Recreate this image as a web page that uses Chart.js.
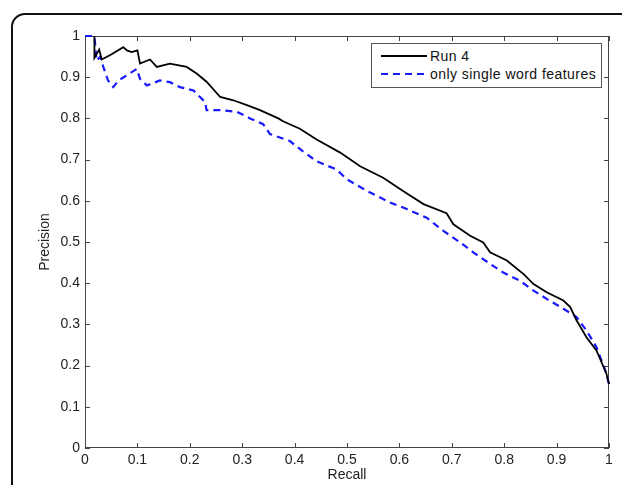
<!DOCTYPE html>
<html lang="en">
<head>
  <meta charset="UTF-8">
  <title>Precision / Recall</title>
  <style>
    html, body { margin: 0; padding: 0; background: #fff; overflow: hidden; }
    #wrap { position: relative; width: 622px; height: 485px; overflow: hidden; }
    #frame {
      position: absolute; left: 11px; top: 13px;
      width: 700px; height: 600px;
      border: 2px solid #111; border-radius: 14px;
    }
    #prChart { position: absolute; left: 0; top: 0; }
    #legend {
      position: absolute; left: 371px; top: 43px;
      width: 229px; height: 40px;
      border: 1px solid #555; background: #fff;
      font: 14px "Liberation Sans", Arial, sans-serif; color: #111;
      letter-spacing: 0.45px;
      padding-top: 3px; box-sizing: content-box;
    }
    #legend .row { display: flex; align-items: center; height: 18px; padding-left: 9px; }
    #legend svg { margin-right: 3px; }
  </style>
</head>
<body>
<div id="wrap">
  <div id="frame"></div>
  <canvas id="prChart" width="622" height="485"></canvas>
  <div id="legend"></div>
</div>

<script src="https://cdn.jsdelivr.net/npm/chart.js"></script>
<script>
  // Run 4
  const runRecall = [0.018, 0.018, 0.027, 0.032, 0.05, 0.073, 0.08, 0.089, 0.1, 0.105, 0.124, 0.137,
    0.162, 0.194, 0.213, 0.232, 0.258, 0.283, 0.309, 0.334, 0.369, 0.378, 0.41, 0.442, 0.487, 0.525,
    0.569, 0.607, 0.646, 0.69, 0.703, 0.735, 0.76, 0.773, 0.805, 0.837, 0.856, 0.881, 0.913, 0.926,
    0.938, 0.957, 0.976, 0.995, 1.0];
  const runPrecision = [1.0, 0.947, 0.967, 0.943, 0.955, 0.973, 0.965, 0.961, 0.965, 0.933, 0.943, 0.925,
    0.933, 0.925, 0.909, 0.889, 0.852, 0.844, 0.832, 0.82, 0.8, 0.793, 0.775, 0.749, 0.717, 0.684,
    0.656, 0.624, 0.592, 0.57, 0.543, 0.515, 0.499, 0.475, 0.455, 0.422, 0.398, 0.378, 0.358, 0.342,
    0.31, 0.269, 0.237, 0.181, 0.155];

  // only single word features
  const singleRecall = [0, 0.018, 0.022, 0.029, 0.035, 0.044, 0.054, 0.064, 0.099, 0.105, 0.118, 0.143,
    0.162, 0.181, 0.207, 0.229, 0.232, 0.258, 0.29, 0.315, 0.34, 0.353, 0.391, 0.416, 0.442, 0.48,
    0.5, 0.538, 0.582, 0.614, 0.652, 0.684, 0.716, 0.741, 0.773, 0.798, 0.83, 0.856, 0.881, 0.913,
    0.938, 0.957, 0.976, 0.995, 1.0];
  const singlePrecision = [1.0, 1.0, 0.94, 0.95, 0.925, 0.892, 0.876, 0.892, 0.92, 0.896, 0.88, 0.892,
    0.888, 0.876, 0.868, 0.84, 0.82, 0.82, 0.816, 0.8, 0.786, 0.762, 0.745, 0.72, 0.696, 0.676,
    0.652, 0.624, 0.596, 0.58, 0.559, 0.527, 0.499, 0.475, 0.447, 0.426, 0.406, 0.382, 0.362, 0.338,
    0.318, 0.285, 0.245, 0.181, 0.155];

  const tickValues = [0, 0.1, 0.2, 0.3, 0.4, 0.5, 0.6, 0.7, 0.8, 0.9, 1];

  const seriesNames = ['Run 4', 'only single word features'];

  const toPoints = (xs, ys) => xs.map((x, i) => ({ x: x, y: ys[i] }));
  const fmt = v => String(+Number(v).toFixed(1));
  const labelFont = { family: '"Liberation Sans", Arial, sans-serif', size: 14 };

  // box round the plot + inward tick marks, matlab style
  const boxTicks = {
    id: 'boxTicks',
    beforeDatasetsDraw(chart) {
      const { ctx, chartArea: a, scales: { x, y } } = chart;
      ctx.save();
      ctx.strokeStyle = '#444';
      ctx.lineWidth = 1;
      ctx.strokeRect(a.left + 0.5, a.top + 0.5, a.right - a.left - 1, a.bottom - a.top - 1);
      ctx.beginPath();
      tickValues.forEach(v => {
        const px = Math.round(x.getPixelForValue(v)) + 0.5;
        ctx.moveTo(px, a.bottom); ctx.lineTo(px, a.bottom - 5);
        ctx.moveTo(px, a.top); ctx.lineTo(px, a.top + 5);
        const py = Math.round(y.getPixelForValue(v)) + 0.5;
        ctx.moveTo(a.left, py); ctx.lineTo(a.left + 5, py);
        ctx.moveTo(a.right, py); ctx.lineTo(a.right - 5, py);
      });
      ctx.stroke();
      ctx.restore();
    }
  };

  const chart = new Chart(document.getElementById('prChart').getContext('2d'), {
    type: 'scatter',
    data: {
      datasets: [{
        label: seriesNames[0],
        data: toPoints(runRecall, runPrecision),
        showLine: true,
        borderColor: '#000',
        borderWidth: 1.8,
        pointRadius: 0,
        clip: 4
      }, {
        label: seriesNames[1],
        data: toPoints(singleRecall, singlePrecision),
        showLine: true,
        borderColor: '#1a1aff',
        borderWidth: 2.2,
        borderDash: [7, 5],
        pointRadius: 0,
        clip: 4
      }]
    },
    options: {
      responsive: false,
      animation: false,
      layout: { padding: { top: 36, right: 13, left: 0, bottom: 0 } },
      plugins: {
        legend: { display: false },
        tooltip: { enabled: false }
      },
      scales: {
        x: {
          type: 'linear', min: 0, max: 1,
          afterBuildTicks: s => { s.ticks = tickValues.map(v => ({ value: v })); },
          afterFit: s => { s.height = 37; },
          ticks: { callback: fmt, font: labelFont, color: '#222', padding: 4, maxRotation: 0, autoSkip: false },
          grid: { display: false, drawTicks: false },
          border: { display: false },
          title: { display: true, text: 'Recall', font: labelFont, color: '#222', padding: { top: 0, bottom: 1 } }
        },
        y: {
          type: 'linear', min: 0, max: 1,
          afterBuildTicks: s => { s.ticks = tickValues.map(v => ({ value: v })); },
          afterFit: s => { s.width = 85; },
          ticks: { callback: fmt, font: labelFont, color: '#222', padding: 5, autoSkip: false },
          grid: { display: false, drawTicks: false },
          border: { display: false },
          title: { display: true, text: 'Precision', font: labelFont, color: '#222', padding: { top: 37, bottom: 0 } }
        }
      }
    },
    plugins: [boxTicks]
  });

  // legend box, built from the datasets
  const legendEl = document.getElementById('legend');
  chart.data.datasets.forEach(ds => {
    const row = document.createElement('div');
    row.className = 'row';
    const dash = ds.borderDash ? ' stroke-dasharray="' + ds.borderDash.join(' ') + '"' : '';
    row.innerHTML = '<svg width="46" height="4"><line x1="0" y1="2" x2="46" y2="2" stroke="' + ds.borderColor +
      '" stroke-width="' + ds.borderWidth + '"' + dash + '/></svg><span>' + ds.label + '</span>';
    legendEl.appendChild(row);
  });
</script>
</body>
</html>
